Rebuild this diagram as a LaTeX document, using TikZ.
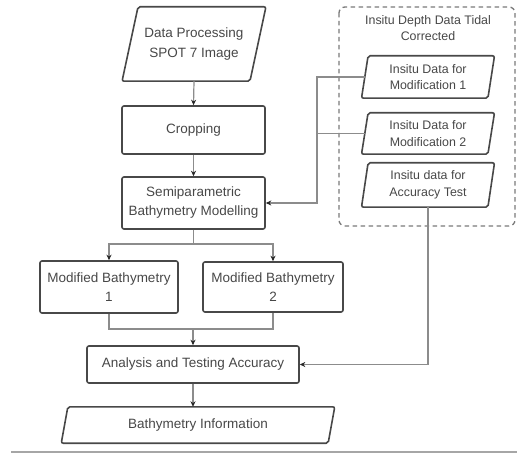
\documentclass[tikz,border=0pt]{standalone}
\usepackage{fontspec}
\setmainfont{Liberation Sans}
\usetikzlibrary{arrows.meta,calc}
\definecolor{boxc}{HTML}{484848}
\definecolor{linec}{HTML}{8C8C8C}
\definecolor{dashc}{HTML}{7A7A7A}
\tikzset{
  boxline/.style={draw=boxc,line width=1.6bp,rounded corners=2bp},
  procbox/.style={boxline,align=center,inner sep=0pt,text=black!72,font=\fontsize{13.5bp}{19bp}\selectfont},
  databody/.style={draw=none,align=center,inner sep=0pt,text=black!72},
  bigtext/.style={font=\fontsize{13.5bp}{19.5bp}\selectfont},
  smalltext/.style={font=\fontsize{12.4bp}{16.5bp}\selectfont},
  conn/.style={draw=linec,line width=1.2bp},
  arr/.style={conn,-{Stealth[length=5.5bp,width=5bp,color=black!85]}},
}
\newcommand{\paradraw}[2]{%
  \draw[boxline] ([xshift=-#2bp]#1.south west) -- ([xshift=#2bp]#1.north west)
    -- ([xshift=#2bp]#1.north east) -- ([xshift=-#2bp]#1.south east) -- cycle;}
\begin{document}
\begin{tikzpicture}[x=1bp,y=-1bp]
\useasboundingbox (0,0) rectangle (517,456);
% left column
\node[databody,bigtext,minimum width=127.5bp,minimum height=74bp] (dp) at (194,44) {Data Processing\\SPOT 7 Image};
\paradraw{dp}{8}
\node[procbox,minimum width=143bp,minimum height=48bp] (crop) at (193.5,130) {Cropping};
\node[procbox,minimum width=143bp,minimum height=52bp] (semi) at (193.5,203) {Semiparametric\\Bathymetry Modelling};
\node[procbox,minimum width=138bp,minimum height=52bp] (mb1) at (109,287) {Modified Bathymetry\\1};
\node[procbox,minimum width=140bp,minimum height=50bp] (mb2) at (273,287) {Modified Bathymetry\\2};
\node[procbox,minimum width=212bp,minimum height=37bp] (ana) at (193,364.5) {Analysis and Testing Accuracy};
\node[databody,bigtext,minimum width=266.5bp,minimum height=36bp] (bi) at (198,425) {Bathymetry Information};
\paradraw{bi}{3.3}
% container
\draw[draw=dashc,line width=1.3bp,dash pattern=on 4.5bp off 3.5bp,rounded corners=6bp] (339,7) rectangle (515,226);
\node[databody,smalltext] (title) at (428,28) {Insitu Depth Data Tidal\\Corrected};
\node[databody,smalltext,minimum width=126bp,minimum height=42bp] (in1) at (428,77) {Insitu Data for\\Modification 1};
\paradraw{in1}{3.3}
\node[databody,smalltext,minimum width=126bp,minimum height=41bp] (in2) at (428,133.5) {Insitu Data for\\Modification 2};
\paradraw{in2}{3.3}
\node[databody,smalltext,minimum width=126bp,minimum height=44bp] (in3) at (428,185) {Insitu data for\\Accuracy Test};
\paradraw{in3}{3.3}
% connectors
\draw[arr] (dp.south) -- (crop.north);
\draw[arr] (crop.south) -- (semi.north);
\coordinate (sp) at (193.5,244);
\draw[conn] (semi.south) -- (sp);
\draw[arr] (sp) -| (mb1.north);
\draw[arr] (sp) -| (mb2.north);
\coordinate (mg) at (193,329);
\draw[conn] (mb1.south) |- (mg) -| (mb2.south);
\draw[arr] (mg) -- (ana.north);
\draw[arr] (ana.south) -- (ana.south |- bi.north);
\coordinate (j1) at (317,77);
\draw[arr] (in1.west) -- (j1) |- (semi.east);
\draw[conn] (in2.west) -- (in2.west -| j1);
\draw[arr] (in3.south) |- (ana.east);
% bottom rule
\draw[draw=black!35,line width=1.5bp] (11,452) -- (517,452);
\end{tikzpicture}
\end{document}
